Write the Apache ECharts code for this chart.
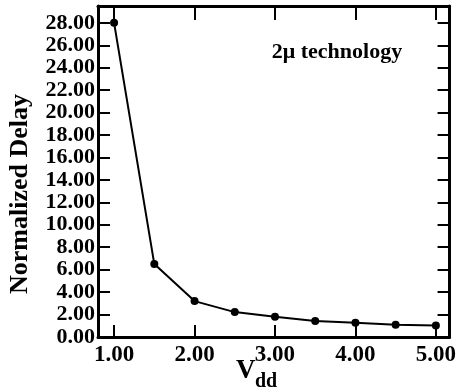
<!DOCTYPE html>
<html>
<head>
<meta charset="utf-8">
<script src="https://cdn.jsdelivr.net/npm/echarts@6/dist/echarts.min.js"></script>
<style>
  html, body { margin: 0; padding: 0; background: #fff; }
  #chart { width: 459px; height: 391px; }
</style>
</head>
<body>
<div id="chart"></div>
<script>
// supply voltage (V) and normalized delay
var vdd = [1.0, 1.5, 2.0, 2.5, 3.0, 3.5, 4.0, 4.5, 5.0];
var delay = [28.0, 6.5, 3.2, 2.22, 1.8, 1.43, 1.26, 1.1, 1.02];

var xTicks = [1, 2, 3, 4, 5];
var yTicks = [0, 2, 4, 6, 8, 10, 12, 14, 16, 18, 20, 22, 24, 26, 28];

var serif = "'Liberation Serif', 'DejaVu Serif', serif";

var myChart = echarts.init(document.getElementById("chart"));

var points = vdd.map(function (v, i) {
  return [v, delay[i]];
});

function fmt(v) {
  return Number(v).toFixed(2);
}

var option = {
  backgroundColor: "#fff",
  animation: false,
  grid: { left: 98, right: 7, top: 6, bottom: 54 },
  xAxis: [
    {
      type: "value",
      min: 0.8,
      max: 5.17,
      axisLine: { show: true, onZero: false, lineStyle: { color: "#000", width: 3 } },
      axisTick: { inside: true, length: 12, customValues: xTicks, lineStyle: { color: "#000", width: 2 } },
      axisLabel: {
        customValues: xTicks,
        formatter: fmt,
        showMinLabel: true,
        showMaxLabel: true,
        margin: 7,
        color: "#000",
        fontFamily: serif,
        fontWeight: "bold",
        fontSize: 23,
      },
      splitLine: { show: false },
    },
    {
      // mirrored ticks along the top
      type: "value",
      position: "top",
      min: 0.8,
      max: 5.17,
      axisLine: { show: true, onZero: false, lineStyle: { color: "#000", width: 3 } },
      axisTick: { inside: true, length: 14, customValues: xTicks, lineStyle: { color: "#000", width: 2 } },
      axisLabel: { show: false },
      splitLine: { show: false },
    },
  ],
  yAxis: [
    {
      type: "value",
      min: 0,
      max: 29.5,
      axisLine: { show: true, onZero: false, lineStyle: { color: "#000", width: 3 } },
      axisTick: { inside: true, length: 12, customValues: yTicks, lineStyle: { color: "#000", width: 2 } },
      axisLabel: {
        customValues: yTicks,
        formatter: fmt,
        showMinLabel: true,
        showMaxLabel: true,
        hideOverlap: false,
        margin: 3,
        color: "#000",
        fontFamily: serif,
        fontWeight: "bold",
        fontSize: 22,
      },
      splitLine: { show: false },
    },
    {
      // mirrored ticks on the right
      type: "value",
      position: "right",
      min: 0,
      max: 29.5,
      axisLine: { show: true, onZero: false, lineStyle: { color: "#000", width: 3 } },
      axisTick: { inside: true, length: 12, customValues: yTicks, lineStyle: { color: "#000", width: 2 } },
      axisLabel: { show: false },
      splitLine: { show: false },
    },
  ],
  series: [
    {
      type: "line",
      data: points,
      symbol: "circle",
      symbolSize: 8,
      itemStyle: { color: "#000" },
      lineStyle: { color: "#000", width: 2 },
    },
  ],
  graphic: [
    {
      type: "text",
      x: 20,
      y: 194,
      rotation: Math.PI / 2,
      style: {
        text: "Normalized Delay",
        font: "bold 26px " + serif,
        fill: "#000",
        align: "center",
        verticalAlign: "middle",
      },
    },
    {
      type: "text",
      x: 236,
      y: 385,
      style: {
        text: "V",
        font: "bold 27px " + serif,
        fill: "#000",
        align: "left",
        verticalAlign: "bottom",
      },
    },
    {
      type: "text",
      x: 255,
      y: 392,
      style: {
        text: "dd",
        font: "bold 20px " + serif,
        fill: "#000",
        align: "left",
        verticalAlign: "bottom",
      },
    },
    {
      type: "text",
      x: 337,
      y: 52,
      style: {
        text: "2μ technology",
        font: "bold 22px " + serif,
        fill: "#000",
        align: "center",
        verticalAlign: "middle",
      },
    },
  ],
};

myChart.setOption(option);
window.onresize = function () {
  myChart.resize();
};
</script>
</body>
</html>
